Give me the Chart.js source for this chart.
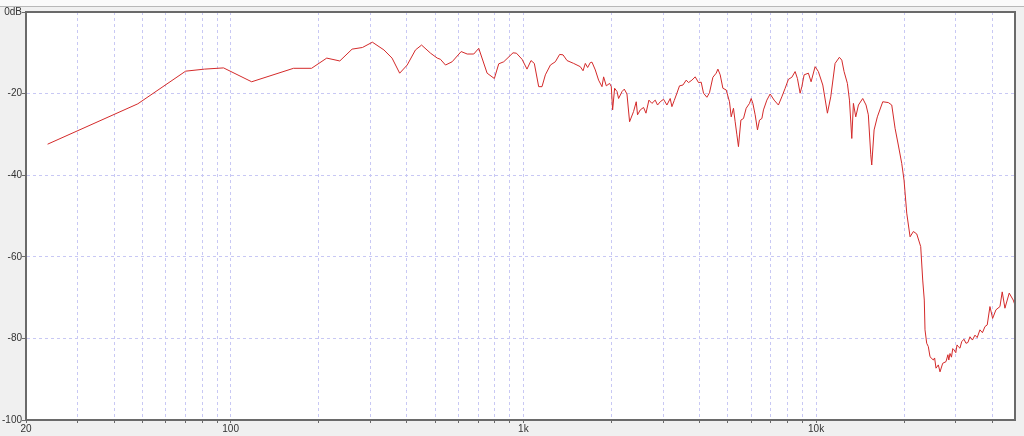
<!DOCTYPE html>
<html>
<head>
<meta charset="utf-8">
<script src="https://cdn.jsdelivr.net/npm/chart.js@4.4.1/dist/chart.umd.min.js"></script>
<style>
  html, body { margin: 0; padding: 0; background: #f0f0f0; }
  #wrap { position: relative; width: 1024px; height: 436px; }
</style>
</head>
<body>
<div id="wrap"><canvas id="fr"></canvas></div>
<script>
// frequency (Hz) and level (dB)
const freqs = [
  23.7, 48.2, 70.2, 81.5, 94.6, 118, 164, 189, 213, 236, 260, 282, 305, 334, 356, 378, 401, 428, 449, 482,
  508, 521, 542, 571, 613, 643, 677, 704, 752, 796, 824, 857, 922, 947, 990, 1029, 1062, 1090, 1128, 1158,
  1189, 1237, 1286, 1330, 1366, 1410, 1485, 1565, 1599, 1628, 1658, 1693, 1716, 1761, 1807, 1856, 1880, 1920, 1971, 1997,
  2018, 2050, 2089, 2115, 2173, 2212, 2259, 2306, 2379, 2430, 2455, 2508, 2574, 2623, 2685, 2749, 2821, 2873, 2935, 3012,
  3093, 3174, 3217, 3276, 3346, 3415, 3508, 3600, 3666, 3765, 3864, 3966, 4050, 4125, 4236, 4323, 4440, 4557, 4619, 4703,
  4804, 4930, 5060, 5128, 5221, 5291, 5363, 5430, 5534, 5649, 5769, 5921, 6000, 6081, 6192, 6306, 6406, 6528, 6610, 6788,
  6966, 7189, 7435, 7636, 7838, 8044, 8262, 8478, 8634, 8819, 8938, 9100, 9412, 9613, 9922, 10180, 10540, 10930, 11220, 11610,
  12010, 12240, 12460, 12790, 13000, 13240, 13410, 13660, 13950, 14430, 14810, 15080, 15370, 15490, 15780, 16190, 16890, 17650, 18130, 18610,
  19090, 19610, 19970, 20400, 20940, 21490, 22070, 22770, 23130, 23420, 23550, 23870, 24170, 24500, 25140, 25400, 25680, 26150, 26500, 27070,
  27780, 28200, 28400, 28670, 29000, 29300, 29580, 30000, 30300, 30600, 31000, 31430, 32000, 32510, 33000, 33550, 34200, 34890, 35500, 36280,
  37000, 37740, 38420, 39250, 40090, 41140, 42460, 43230, 44160, 45670, 47140, 47770
];
const levels = [
  -32.4, -22.5, -14.5, -14.0, -13.7, -17.1, -13.8, -13.8, -11.3, -12.0, -9.1, -8.7, -7.4, -9.3, -11.3, -15.0, -13.0, -9.3, -8.1, -10.1,
  -11.3, -11.6, -13.0, -12.2, -9.7, -10.3, -10.3, -8.9, -15.0, -16.3, -12.7, -12.2, -10.0, -10.1, -11.6, -14.0, -11.9, -12.6, -18.3, -18.3,
  -15.4, -13.0, -12.2, -10.4, -10.5, -11.9, -12.6, -13.4, -14.4, -12.6, -13.6, -12.4, -12.3, -14.2, -16.7, -18.3, -15.9, -18.1, -17.5, -18.3,
  -24.0, -18.7, -19.5, -21.2, -19.5, -18.9, -20.1, -26.9, -24.4, -22.0, -25.2, -24.0, -23.4, -24.8, -21.6, -22.4, -21.6, -22.8, -22.0, -21.4,
  -22.8, -21.2, -23.2, -21.7, -19.9, -18.1, -17.9, -16.7, -17.3, -16.7, -15.9, -17.3, -17.2, -19.9, -20.9, -19.8, -16.0, -15.0, -14.0, -15.4,
  -18.7, -19.1, -22.0, -25.7, -23.6, -26.9, -30.1, -33.0, -26.5, -26.1, -23.6, -22.4, -21.2, -22.4, -25.2, -28.9, -26.5, -26.1, -24.0, -21.6,
  -20.1, -21.6, -22.8, -20.8, -18.7, -16.5, -16.0, -14.6, -16.3, -19.9, -18.3, -15.4, -15.0, -17.1, -13.4, -14.6, -17.9, -24.8, -20.8, -12.6,
  -11.1, -11.8, -14.6, -17.5, -21.6, -31.0, -22.4, -25.7, -22.8, -21.2, -22.8, -25.2, -35.0, -37.5, -28.9, -25.7, -22.0, -22.2, -22.8, -28.5,
  -32.6, -37.1, -41.2, -49.3, -55.1, -53.8, -54.4, -57.5, -65.7, -70.6, -77.9, -81.2, -82.0, -84.5, -85.3, -84.8, -87.3, -86.5, -88.2, -86.1,
  -85.7, -84.0, -85.3, -83.7, -84.6, -82.5, -82.8, -83.5, -81.6, -82.0, -82.4, -80.8, -80.2, -81.2, -81.0, -79.6, -80.4, -79.2, -79.8, -77.9,
  -78.6, -77.1, -76.7, -72.2, -75.1, -73.0, -72.2, -68.6, -72.6, -68.9, -70.6, -71.8
];

const xTicks = [20, 30, 40, 50, 60, 70, 80, 90, 100, 200, 300, 400, 500, 600, 700, 800, 900,
  1000, 2000, 3000, 4000, 5000, 6000, 7000, 8000, 9000, 10000, 20000, 30000, 40000];
const xLabels = { 20: "20", 100: "100", 1000: "1k", 10000: "10k" };
const yTicks = [-100, -80, -60, -40, -20, 0];

const points = freqs.map((f, i) => ({ x: f, y: levels[i] }));

const gridColor = "#c8c8f4";
const axisColor = "#6a6a6a";
const labelFont = { family: "Liberation Sans", size: 10 };

const frame = {
  id: "frame",
  beforeDraw(chart) {
    const { ctx, chartArea: a, width } = chart;
    ctx.save();
    ctx.fillStyle = "#fafafa";
    ctx.fillRect(0, 0, width, 6);
    ctx.fillStyle = "#b8b8b8";
    ctx.fillRect(0, 6, width, 1);
    ctx.fillStyle = "#ffffff";
    ctx.fillRect(a.left, a.top, a.right - a.left, a.bottom - a.top);
    ctx.restore();
  },
  afterDraw(chart) {
    const { ctx, chartArea: a } = chart;
    ctx.save();
    ctx.strokeStyle = axisColor;
    ctx.lineWidth = 2;
    ctx.beginPath();
    ctx.moveTo(a.left, a.top);
    ctx.lineTo(a.right, a.top);
    ctx.lineTo(a.right, a.bottom);
    ctx.stroke();
    ctx.restore();
  },
};

new Chart(document.getElementById("fr"), {
  type: "line",
  data: {
    datasets: [
      {
        data: points,
        borderColor: "#d42a2a",
        borderWidth: 1,
        pointRadius: 0,
        tension: 0,
        fill: false,
      },
    ],
  },
  options: {
    responsive: true,
    maintainAspectRatio: false,
    animation: false,
    events: [],
    layout: { padding: { top: 12, right: 9, left: 0, bottom: 0 } },
    plugins: {
      legend: { display: false },
      tooltip: { enabled: false },
    },
    scales: {
      x: {
        type: "logarithmic",
        min: 20,
        max: 47800,
        afterBuildTicks: (scale) => {
          scale.ticks = xTicks.map((v) => ({ value: v }));
        },
        afterFit: (scale) => {
          scale.height = 16;
        },
        grid: {
          color: gridColor,
          lineWidth: 1,
          tickColor: axisColor,
          tickLength: 3,
        },
        border: { display: true, color: axisColor, width: 2, dash: [3, 3] },
        ticks: {
          autoSkip: false,
          maxRotation: 0,
          padding: 0,
          color: "#333",
          font: labelFont,
          callback: (v) => xLabels[v] || "",
        },
      },
      y: {
        min: -100,
        max: 0,
        afterBuildTicks: (scale) => {
          scale.ticks = yTicks.map((v) => ({ value: v }));
        },
        afterFit: (scale) => {
          scale.width = 26;
        },
        grid: {
          color: gridColor,
          lineWidth: 1,
          tickColor: axisColor,
          tickLength: 4,
        },
        border: { display: true, color: axisColor, width: 2, dash: [3, 3] },
        ticks: {
          padding: 0,
          color: "#333",
          font: labelFont,
          callback: (v) => (v === 0 ? "0dB" : String(v)),
        },
      },
    },
  },
  plugins: [frame],
});
</script>
</body>
</html>
